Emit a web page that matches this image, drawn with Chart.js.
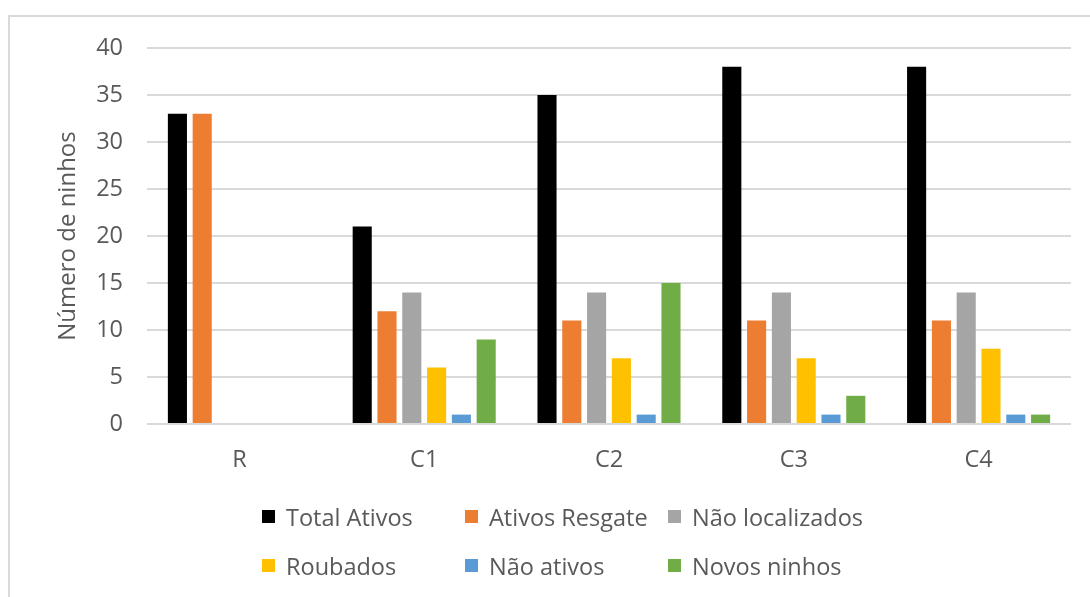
<!DOCTYPE html>
<html>
<head>
<meta charset="utf-8">
<script src="https://cdn.jsdelivr.net/npm/chart.js@4.4.0/dist/chart.umd.min.js"></script>
<style>
  html, body { margin: 0; padding: 0; background: #fff; overflow: hidden; }
  #wrap { position: relative; width: 1090px; height: 597px; }
  #frame {
    position: absolute; left: 8px; top: 15px; width: 1200px; height: 700px;
    border: 2px solid #d9d9d9; box-sizing: border-box;
  }
  #myChart { position: absolute; left: 0; top: 0; }
  #legend { position: absolute; left: 262px; top: 502px; margin: 0; padding: 0; list-style: none;
    display: grid; grid-template-columns: 203px 203px 203px; row-gap: 20px; }
  #legend li { display: flex; align-items: center; height: 29px;
    font-family: "Open Sans", "Noto Sans", sans-serif; font-size: 23.5px; color: #595959; white-space: nowrap; }
  #legend li span.box { display: inline-block; width: 13px; height: 13px; margin-right: 11px; }
</style>
</head>
<body>
<div id="wrap">
  <div id="frame"></div>
  <canvas id="myChart" width="1090" height="597"></canvas>
  <ul id="legend"></ul>
</div>
<script>
// categorias e séries
var categories = ['R', 'C1', 'C2', 'C3', 'C4'];
var totalAtivos    = [33, 21, 35, 38, 38];
var ativosResgate  = [33, 12, 11, 11, 11];
var naoLocalizados = [0, 14, 14, 14, 14];
var roubados       = [0, 6, 7, 7, 8];
var naoAtivos      = [0, 1, 1, 1, 1];
var novosNinhos    = [0, 9, 15, 3, 1];
var seriesNames  = ['Total Ativos', 'Ativos Resgate', 'Não localizados', 'Roubados', 'Não ativos', 'Novos ninhos'];
var seriesColors = ['#000000', '#ED7D31', '#A5A5A5', '#FFC000', '#5B9BD5', '#70AD47'];
var yTicks = [0, 5, 10, 15, 20, 25, 30, 35, 40];

var allSeries = [totalAtivos, ativosResgate, naoLocalizados, roubados, naoAtivos, novosNinhos];
var datasets = [];
for (var i = 0; i < allSeries.length; i++) {
  datasets.push({
    label: seriesNames[i],
    data: allSeries[i],
    backgroundColor: seriesColors[i],
    borderWidth: 0,
    categoryPercentage: 0.805,
    barPercentage: 0.77
  });
}

var font = { family: '"Open Sans", "Noto Sans", sans-serif', size: 23.5 };
var grey = '#595959';

var ctx = document.getElementById('myChart').getContext('2d');
var myChart = new Chart(ctx, {
  type: 'bar',
  data: { labels: categories, datasets: datasets },
  options: {
    responsive: false,
    animation: false,
    layout: { padding: { left: 0, right: 19, top: 48, bottom: 0 } },
    plugins: { legend: { display: false }, tooltip: { enabled: false } },
    scales: {
      x: {
        grid: { display: false, drawTicks: false },
        border: { display: false },
        ticks: { color: grey, font: font, padding: 22 },
        afterFit: function(scale) { scale.height = 173; }
      },
      y: {
        min: 0,
        max: 40,
        afterBuildTicks: function(scale) { scale.ticks = yTicks.map(function(v) { return { value: v }; }); },
        grid: { color: '#d9d9d9', lineWidth: 2, drawTicks: false },
        border: { display: false },
        ticks: { color: grey, font: font, padding: 24 },
        title: {
          display: true,
          text: 'Número de ninhos',
          color: grey,
          font: { family: font.family, size: 24 },
          padding: { top: 54, bottom: 0 }
        },
        afterFit: function(scale) { scale.width = 147; }
      }
    }
  }
});

// legenda em HTML, 3 colunas
var legendBox = document.getElementById('legend');
myChart.data.datasets.forEach(function(ds) {
  var li = document.createElement('li');
  var box = document.createElement('span');
  box.className = 'box';
  box.style.background = ds.backgroundColor;
  li.appendChild(box);
  li.appendChild(document.createTextNode(ds.label));
  legendBox.appendChild(li);
});
</script>
</body>
</html>
